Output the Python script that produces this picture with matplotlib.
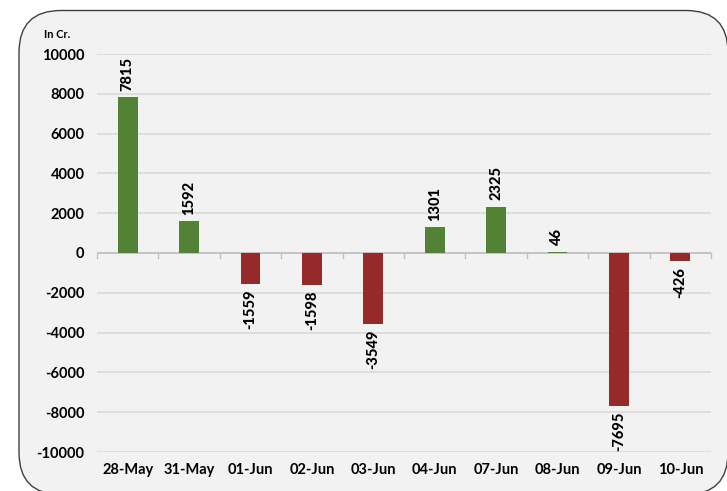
import matplotlib.pyplot as plt
from matplotlib.patches import FancyBboxPatch

dates = ['28-May', '31-May', '01-Jun', '02-Jun', '03-Jun', '04-Jun', '07-Jun', '08-Jun', '09-Jun', '10-Jun']
flows = [7815, 1592, -1559, -1598, -3549, 1301, 2325, 46, -7695, -426]

green = '#538135'
red = '#962a2a'
bg = '#f2f2f2'

plt.rcParams['font.family'] = ['Lato', 'DejaVu Sans']
plt.rcParams['axes.unicode_minus'] = False

fig = plt.figure(figsize=(7.27, 4.91), dpi=100)
fig.patch.set_facecolor('white')

# rounded frame round the chart (in inches, 100 px per inch)
frame = FancyBboxPatch((0.19, -0.035), 7.09, 4.84,
                       boxstyle='round,pad=0,rounding_size=0.42',
                       transform=fig.dpi_scale_trans, facecolor=bg, edgecolor='#404040',
                       linewidth=1.0, zorder=-1)
fig.patches.append(frame)

ax = fig.add_axes([97 / 727, 1 - 452 / 491, 614 / 727, 398 / 491])
ax.set_facecolor(bg)

x = range(len(dates))
colors = [green if v >= 0 else red for v in flows]
ax.bar(x, flows, width=0.32, color=colors, zorder=3)

for i, v in enumerate(flows):
    if v >= 0:
        ax.text(i, v + 330, str(v), rotation=90, ha='center', va='bottom',
                fontsize=10.5, fontweight='black')
    else:
        ax.text(i, v - 280, str(v), rotation=90, ha='center', va='top',
                fontsize=10.5, fontweight='black')

ax.set_xlim(-0.5, len(dates) - 0.5)
ax.set_ylim(-10000, 10000)
ax.set_yticks(range(-10000, 10001, 2000))
ax.grid(axis='y', color='#d9d9d9', linewidth=1.2, zorder=0)
ax.axhline(0, color='#bfbfbf', linewidth=1.2, zorder=2)

for s in ax.spines.values():
    s.set_visible(False)

ax.tick_params(axis='y', length=0, pad=9, labelsize=10.5)
ax.tick_params(axis='x', length=0, pad=8, labelsize=10.5)
for lab in ax.get_yticklabels() + ax.get_xticklabels():
    lab.set_fontweight('bold')
ax.set_xticks(list(x))
ax.set_xticklabels(dates)

# small ticks on the zero line between categories
for b in range(len(dates) + 1):
    ax.plot([b - 0.5, b - 0.5], [0, -250], color='#bfbfbf', linewidth=1.0, zorder=2, clip_on=False)

fig.text(44 / 727, 1 - 34 / 491, 'In Cr.', fontsize=8, fontweight='bold', va='center')

fig.savefig('out.png', dpi=100, facecolor='white')
